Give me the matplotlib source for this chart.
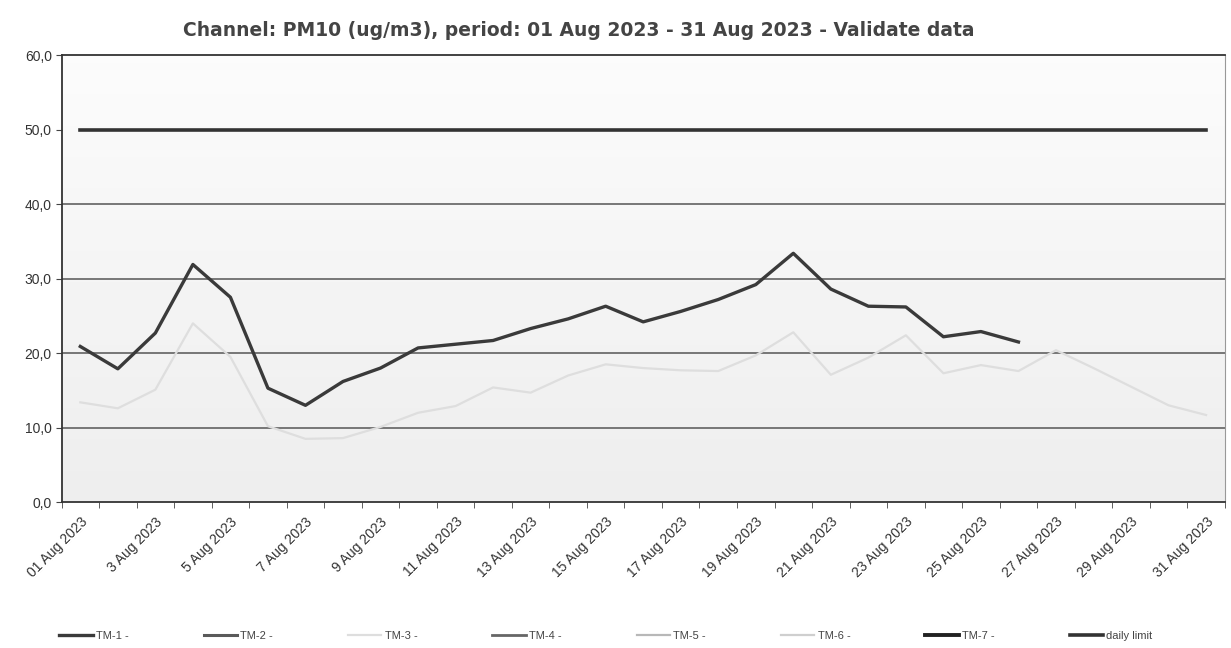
import matplotlib.pyplot as plt
from matplotlib.lines import Line2D
import numpy as np

# daily means, 1..31 Aug 2023
days = list(range(1, 32))
tick_labels = ["01 Aug 2023"] + [f"{d} Aug 2023" for d in range(3, 32, 2)]

tm1 = [20.9, 17.9, 22.7, 31.9, 27.5, 15.3, 13.0, 16.2, 18.0, 20.7,
       21.2, 21.7, 23.3, 24.6, 26.3, 24.2, 25.6, 27.2, 29.2, 33.4,
       28.6, 26.3, 26.2, 22.2, 22.9, 21.5]
tm3 = [13.4, 12.6, 15.1, 24.0, 19.5, 10.2, 8.5, 8.6, 10.1, 12.0,
       12.9, 15.4, 14.7, 17.0, 18.5, 18.0, 17.7, 17.6, 19.7, 22.8,
       17.1, 19.4, 22.4, 17.3, 18.4, 17.6, 20.4, 18.0, 15.5, 13.0, 11.7]
daily_limit = [50.0] * len(days)

series_names = ["TM-1 -", "TM-2 -", "TM-3 -", "TM-4 -", "TM-5 -", "TM-6 -", "TM-7 -", "daily limit"]
series_colors = ["#3a3a3a", "#5a5a5a", "#dedede", "#666666", "#b8b8b8", "#cfcfcf", "#222222", "#333333"]
series_widths = [2.4, 2.2, 1.6, 2.0, 1.6, 1.6, 2.8, 2.6]


def main() -> None:
    fig = plt.figure(figsize=(12.31, 6.48), dpi=100)
    ax = fig.add_axes([0.05, 0.225, 0.945, 0.69])

    # light gradient background of the plot area
    grad = np.linspace(0.93, 0.985, 100).reshape(-1, 1)
    ax.imshow(grad, cmap="gray", vmin=0, vmax=1, aspect="auto",
              extent=(-0.5, 30.5, 0, 60), origin="lower", zorder=0)

    for v in [10, 20, 30, 40]:
        ax.axhline(v, color="#555555", lw=1.1, zorder=1)

    x = np.arange(len(days))
    data = {"TM-1 -": tm1, "TM-3 -": tm3, "daily limit": daily_limit}
    for name, color, lw in zip(series_names, series_colors, series_widths):
        vals = data.get(name, [])
        ax.plot(x[:len(vals)], vals, color=color, lw=lw, zorder=3)

    ax.set_xlim(-0.5, 30.5)
    ax.set_ylim(0, 60)
    ax.set_yticks([0, 10, 20, 30, 40, 50, 60])
    ax.set_yticklabels([f"{v},0" for v in [0, 10, 20, 30, 40, 50, 60]],
                       fontsize=10, color="#333333", family="Liberation Sans")
    ax.tick_params(axis="y", length=4, color="#444444", pad=3)

    ax.set_xticks(x[::2])
    ax.set_xticklabels(tick_labels, rotation=45, ha="right", rotation_mode="anchor",
                       fontsize=10, color="#333333", family="Liberation Sans")
    ax.set_xticks(np.arange(-0.5, 31, 1), minor=True)
    ax.tick_params(axis="x", which="major", length=0, pad=9)
    ax.tick_params(axis="x", which="minor", length=4, color="#444444")

    for side in ["left", "bottom", "top"]:
        ax.spines[side].set_color("#333333")
        ax.spines[side].set_linewidth(1.3)
    ax.spines["right"].set_color("#999999")

    fig.text(0.47, 0.953, "Channel: PM10 (ug/m3), period: 01 Aug 2023 - 31 Aug 2023 - Validate data",
             ha="center", va="center", fontsize=13.5, fontweight="bold", color="#444444",
             family="DejaVu Sans")

    handles = [Line2D([], [], color=c, lw=w) for c, w in zip(series_colors, series_widths)]
    leg = fig.legend(handles, series_names, loc="lower left", bbox_to_anchor=(0.04, -0.005),
                     ncol=8, frameon=False, handlelength=3.0,
                     handletextpad=0.3, columnspacing=6.75,
                     prop={"family": "Liberation Sans", "size": 8})
    for t in leg.get_texts():
        t.set_color("#444444")

    fig.savefig("out.png", dpi=100)


if __name__ == "__main__":
    main()
